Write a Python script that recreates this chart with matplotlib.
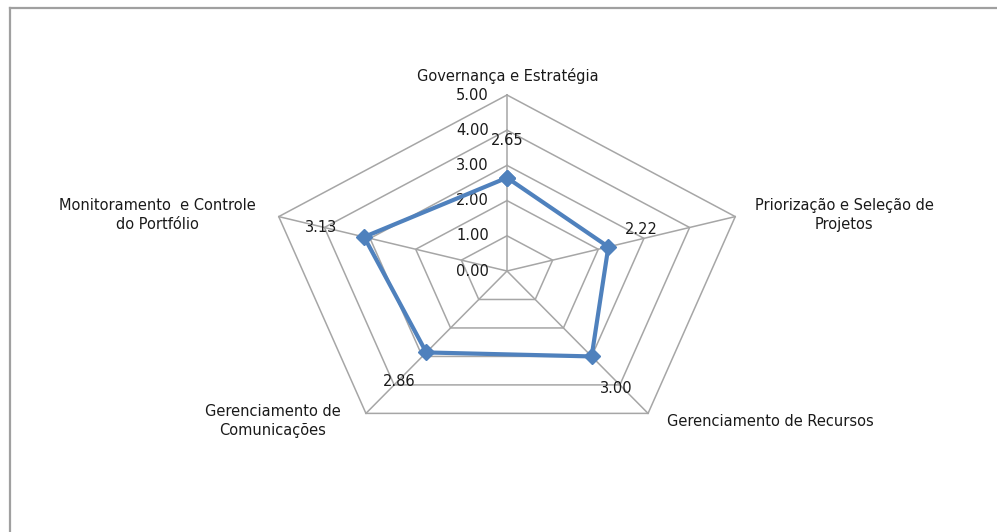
import numpy as np
import matplotlib
matplotlib.use("Agg")
import matplotlib.pyplot as plt
from matplotlib.lines import Line2D

categories = [
    "Governança e Estratégia",
    "Priorização e Seleção de\nProjetos",
    "Gerenciamento de Recursos",
    "Gerenciamento de\nComunicações",
    "Monitoramento  e Controle\ndo Portfólio",
]
values = [2.65, 2.22, 3.00, 2.86, 3.13]
rings = [0.0, 1.0, 2.0, 3.0, 4.0, 5.0]
ring_labels = ["0.00", "1.00", "2.00", "3.00", "4.00", "5.00"]
vmax = 5.0

# label offsets in pixels (data labels / category labels)
value_offsets = [(0, 37), (33, 17), (25, -32), (-27, -29), (-43, 9)]
cat_offsets = [(1, 19), (109, 2), (122, -8), (-93, -8), (-121, 2)]

plt.rcParams["font.family"] = ["DejaVu Sans"]

fig = plt.figure(figsize=(9.97, 5.32), dpi=100)
ax = fig.add_axes([0, 0, 1, 1])
# chart is stretched horizontally: 240 px per unit in x, 176 px in y
cx, cy, rx, ry = 507, 271, 240, 176
ax.set_xlim(-cx / rx, (997 - cx) / rx)
ax.set_ylim(-(532 - cy) / ry, cy / ry)
ax.axis("off")

n = len(categories)
theta = np.pi / 2 - 2 * np.pi * np.arange(n) / n
ct, st = np.cos(theta), np.sin(theta)
grid_c = "#a6a6a6"

for r in rings[1:]:
    f = r / vmax
    ax.plot(np.append(f * ct, f * ct[0]), np.append(f * st, f * st[0]),
            color=grid_c, lw=1.1, zorder=1)
for i in range(n):
    ax.plot([0, ct[i]], [0, st[i]], color=grid_c, lw=1.1, zorder=1)

fs = 10.5
for r, lab in zip(rings, ring_labels):
    ax.annotate(lab, (0, r / vmax), xytext=(-18, 0), textcoords="offset pixels",
                ha="right", va="center", fontsize=fs, color="#1a1a1a")

v = np.array(values) / vmax
xs, ys = v * ct, v * st
ax.plot(np.append(xs, xs[0]), np.append(ys, ys[0]), color="#4f81bd", lw=3,
        marker="D", markersize=8, markerfacecolor="#4f81bd",
        markeredgecolor="#4f81bd", zorder=3)

for i in range(n):
    ax.annotate(f"{values[i]:.2f}", (xs[i], ys[i]), xytext=value_offsets[i],
                textcoords="offset pixels", ha="center", va="center",
                fontsize=fs, color="#1a1a1a", zorder=4)
    ax.annotate(categories[i], (ct[i], st[i]), xytext=cat_offsets[i],
                textcoords="offset pixels", ha="center", va="center",
                fontsize=fs, color="#1a1a1a", linespacing=1.35)

# outer frame, cut off at right and bottom
x0 = 9.5 / 997
y0 = 1 - 7.5 / 532
fig.add_artist(Line2D([x0, 1.01], [y0, y0], color="#a0a0a0", lw=1.6))
fig.add_artist(Line2D([x0, x0], [y0, -0.01], color="#a0a0a0", lw=1.6))

fig.savefig("out.png", dpi=100)
